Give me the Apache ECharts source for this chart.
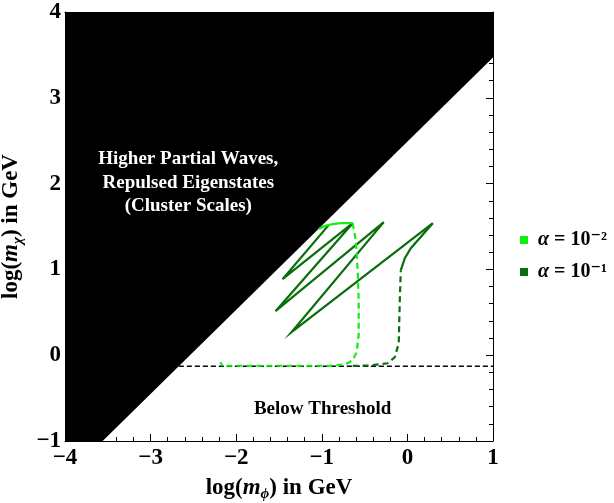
<!DOCTYPE html>
<html>
<head>
<meta charset="utf-8">
<script src="https://cdn.jsdelivr.net/npm/echarts@6/dist/echarts.min.js"></script>
<style>html,body{margin:0;padding:0;background:#fff;}#c{width:614px;height:503px;}</style>
</head>
<body>
<div id="c"></div>
<script>
// ---- data (log10 values, GeV) ----
const xRange = [-4, 1];
const yRange = [-1, 4];
const majorStep = 1;
const minorStep = 0.2;
const blackRegion = [[-4, -1], [-3.56, -1], [1, 3.47], [1, 4], [-4, 4]];
const threshold = [[-2.67, -0.13], [1, -0.13]];

const lightName = 'α = 10⁻²';
const darkName = 'α = 10⁻¹';

const lightSolid = [[-1.037, 1.469], [-0.967, 1.504], [-0.874, 1.527], [-0.756, 1.539], [-0.639, 1.539]];
const lightDashed = [[-0.639, 1.539], [-0.604, 1.341], [-0.581, 0.991], [-0.569, 0.641], [-0.569, 0.233],
  [-0.593, 0.035], [-0.639, -0.059], [-0.721, -0.106], [-0.897, -0.123], [-2.162, -0.123], [-2.185, -0.082]];

const darkDashed = [[-0.639, -0.125], [-0.45, -0.12], [-0.23, -0.094], [-0.148, -0.024], [-0.101, 0.14],
  [-0.089, 0.641], [-0.077, 0.991]];
const darkSolid = [[-0.077, 0.991], [-0.03, 1.131], [0.04, 1.247], [0.297, 1.539], [-1.354, 0.268],
  [-0.276, 1.551], [-1.541, 0.513], [-0.639, 1.539], [-1.459, 0.886], [-0.92, 1.516]];

const regionLabels = [
  { pos: [-2.56, 2.285], text: 'Higher Partial Waves,', color: '#fff' },
  { pos: [-2.56, 2.005], text: 'Repulsed Eigenstates', color: '#fff' },
  { pos: [-2.56, 1.735], text: '(Cluster Scales)', color: '#fff' },
  { pos: [-0.99, -0.625], text: 'Below Threshold', color: '#000' }
];

const lightColor = '#11ee11';
const darkColor = '#0a6e0a';
const serif = '"Liberation Serif", "DejaVu Serif", serif';

const chart = echarts.init(document.getElementById('c'), null, { renderer: 'canvas' });

const labelStyle = {
  show: true,
  fontFamily: serif, fontWeight: 'bold', fontSize: 23, color: '#000',
  formatter: v => String(v).replace('-', '−')
};

function majorAxis(range, position, extra) {
  return Object.assign({
    type: 'value', min: range[0], max: range[1], interval: majorStep, position: position,
    axisLine: { show: true, onZero: false, lineStyle: { color: '#000', width: 1 } },
    axisTick: { show: true, inside: true, length: 7, lineStyle: { color: '#000' } },
    splitLine: { show: false },
    axisLabel: { show: false }
  }, extra || {});
}
function minorAxis(range, position) {
  return {
    type: 'value', min: range[0], max: range[1], interval: minorStep, position: position,
    axisLine: { show: false, onZero: false },
    axisTick: { show: true, inside: true, length: 4, lineStyle: { color: '#000' } },
    splitLine: { show: false },
    axisLabel: { show: false }
  };
}

const titleRich = {
  n: { fontFamily: serif, fontWeight: 'bold', fontSize: 23, color: '#000', lineHeight: 28 },
  i: { fontFamily: serif, fontWeight: 'bold', fontStyle: 'italic', fontSize: 23, color: '#000', lineHeight: 28 },
  s: { fontFamily: serif, fontWeight: 'bold', fontStyle: 'italic', fontSize: 15, color: '#000', lineHeight: 14, verticalAlign: 'bottom' }
};

const option = {
  animation: false,
  backgroundColor: '#fff',
  grid: { left: 65, right: 121, top: 12, bottom: 62, containLabel: false, outerBoundsMode: 'none' },
  legend: {
    orient: 'vertical',
    left: 515, top: 225,
    itemWidth: 8, itemHeight: 8, itemGap: 12,
    icon: 'rect',
    data: [lightName, darkName],
    formatter: name => '{i| α}{n|' + name.slice(1) + '}',
    textStyle: {
      rich: {
        i: { fontFamily: serif, fontWeight: 'bold', fontStyle: 'italic', fontSize: 20, color: '#000' },
        n: { fontFamily: serif, fontWeight: 'bold', fontSize: 20, color: '#000' }
      }
    }
  },
  xAxis: [
    majorAxis(xRange, 'bottom', {
      axisLabel: Object.assign({}, labelStyle, { margin: 6 }),
      name: '{n|log(}{i|m}{s|ϕ}{n|) in GeV}',
      nameLocation: 'middle', nameGap: 33,
      nameTextStyle: { rich: titleRich }
    }),
    majorAxis(xRange, 'top'),
    minorAxis(xRange, 'bottom'),
    minorAxis(xRange, 'top')
  ],
  yAxis: [
    majorAxis(yRange, 'left', {
      axisLabel: Object.assign({}, labelStyle, { margin: 4 }),
      name: '{n|log(}{i|m}{s|χ}{n|) in GeV}',
      nameLocation: 'middle', nameGap: 33, nameRotate: 90,
      nameTextStyle: { rich: titleRich }
    }),
    majorAxis(yRange, 'right'),
    minorAxis(yRange, 'left'),
    minorAxis(yRange, 'right')
  ],
  series: [
    {
      type: 'custom', name: 'region', z: 1, silent: true,
      data: blackRegion,
      renderItem: function (params, api) {
        if (params.dataIndex !== 0) return null;
        const pts = blackRegion.map(p => api.coord(p));
        return { type: 'polygon', shape: { points: pts }, style: { fill: '#000' } };
      }
    },
    {
      type: 'line', name: 'threshold', z: 2, data: threshold, symbol: 'none',
      lineStyle: { color: '#000', width: 1.5, type: [5, 3] }
    },
    {
      type: 'line', name: lightName, z: 4, data: lightDashed, symbol: 'none',
      itemStyle: { color: lightColor },
      lineStyle: { color: lightColor, width: 2.2, type: [6, 4] }
    },
    {
      type: 'line', name: lightName, z: 4, data: lightSolid, symbol: 'none', smooth: 0.3,
      itemStyle: { color: lightColor },
      lineStyle: { color: lightColor, width: 2.2 }
    },
    {
      type: 'line', name: darkName, z: 3, data: darkDashed, symbol: 'none',
      itemStyle: { color: darkColor },
      lineStyle: { color: darkColor, width: 2.2, type: [6, 4] }
    },
    {
      type: 'line', name: darkName, z: 3, data: darkSolid, symbol: 'none',
      itemStyle: { color: darkColor },
      lineStyle: { color: darkColor, width: 2.2, join: 'miter' }
    },
    {
      type: 'custom', name: 'labels', z: 6, silent: true,
      data: regionLabels.map(d => d.pos),
      renderItem: function (params, api) {
        const d = regionLabels[params.dataIndex];
        const p = api.coord(d.pos);
        return {
          type: 'text', x: p[0], y: p[1],
          style: {
            text: d.text, fill: d.color, align: 'center', verticalAlign: 'middle',
            font: 'bold 19px ' + serif
          }
        };
      }
    }
  ]
};
chart.setOption(option);
</script>
</body>
</html>
